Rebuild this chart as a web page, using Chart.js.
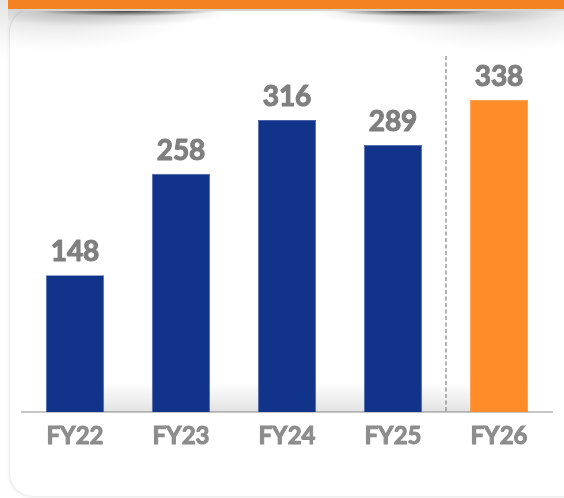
<!DOCTYPE html>
<html>
<head>
<meta charset="utf-8">
<script src="https://cdn.jsdelivr.net/npm/chart.js@4/dist/chart.umd.min.js"></script>
<style>
  html, body { margin: 0; padding: 0; background: #ffffff; }
  #stage { position: relative; width: 564px; height: 498px; overflow: hidden; background: #ffffff; }
  #edge { position: absolute; left: 0; top: 0; width: 8px; height: 60px;
          background: linear-gradient(to bottom, #e4e4e4, #f6f6f6 60%, #ffffff); }
  #card { position: absolute; left: 9px; top: 8px; width: 600px; height: 487px;
          border-radius: 24px; border: 1px solid #ececec; background: #ffffff;
          box-shadow: -1px 1px 3px rgba(0,0,0,0.05); }
  #header { position: absolute; left: 8px; top: 0; width: 560px; height: 9px;
            background: #F58220; border-bottom: 2px solid #d4d4d4; }
  #curl { position: absolute; left: 8px; top: 11px; width: 556px; height: 55px;
          background:
            radial-gradient(ellipse 90px 5px at 120px 0px, rgba(0,0,0,0.65), rgba(0,0,0,0) 100%),
            radial-gradient(ellipse 130px 16px at 95px 0px, rgba(0,0,0,0.22), rgba(0,0,0,0) 100%),
            radial-gradient(ellipse 140px 40px at 45px 0px, rgba(0,0,0,0.14), rgba(0,0,0,0.04) 65%, rgba(0,0,0,0) 100%),
            radial-gradient(ellipse 80px 5px at 405px 0px, rgba(0,0,0,0.65), rgba(0,0,0,0) 100%),
            radial-gradient(ellipse 130px 16px at 430px 0px, rgba(0,0,0,0.22), rgba(0,0,0,0) 100%),
            radial-gradient(ellipse 140px 40px at 495px 0px, rgba(0,0,0,0.14), rgba(0,0,0,0.04) 65%, rgba(0,0,0,0) 100%); }
  #chart { position: absolute; left: 0; top: 0; }
</style>
</head>
<body>
<div id="stage">
  <div id="edge"></div>
  <div id="card"></div>
  <div id="header"></div>
  <div id="curl"></div>
  <canvas id="chart" width="564" height="498"></canvas>
</div>
<script>
// Annual figures, FY22 to FY26 (FY26 is the projection)
const categories = ['FY22', 'FY23', 'FY24', 'FY25', 'FY26'];
const values = [148, 258, 316, 289, 338];
const projectedFrom = 'FY26';

const NAVY = '#12338A';
const ORANGE = '#FF8C29';
const LABEL_GREY = '#7f7f7f';
const TICK_GREY = '#8c8c8c';
const FONT = 'Lato, Calibri, "Open Sans", sans-serif';

// Soft floor shading behind the bars, just above the axis line
const floorShade = {
  id: 'floorShade',
  beforeDatasetsDraw(chart) {
    const { ctx, chartArea } = chart;
    const bars = chart.getDatasetMeta(0).data;
    if (!bars.length) return;
    const left = bars[0].x - bars[0].width / 2;
    const right = bars[bars.length - 1].x + bars[bars.length - 1].width / 2;
    const top = chartArea.bottom - 30;
    const g = ctx.createLinearGradient(0, top, 0, chartArea.bottom);
    g.addColorStop(0, 'rgba(0,0,0,0)');
    g.addColorStop(1, 'rgba(0,0,0,0.11)');
    ctx.save();
    ctx.fillStyle = g;
    ctx.fillRect(left, top, right - left, chartArea.bottom - top);
    ctx.restore();
  }
};

// Dashed divider between actual and projected years, plus value labels
const annotations = {
  id: 'annotations',
  afterDatasetsDraw(chart) {
    const { ctx, chartArea, scales } = chart;
    const idx = categories.indexOf(projectedFrom);
    ctx.save();
    if (idx > 0) {
      const x = (scales.x.getPixelForValue(idx - 1) + scales.x.getPixelForValue(idx)) / 2;
      ctx.strokeStyle = '#8a8a8a';
      ctx.lineWidth = 1.3;
      ctx.setLineDash([4, 2.5]);
      ctx.beginPath();
      ctx.moveTo(x, 56);
      ctx.lineTo(x, chartArea.bottom);
      ctx.stroke();
      ctx.setLineDash([]);
    }
    ctx.fillStyle = LABEL_GREY;
    ctx.strokeStyle = LABEL_GREY;
    ctx.lineWidth = 1.1;
    ctx.lineJoin = 'round';
    ctx.font = 'bold 28px ' + FONT;
    ctx.textAlign = 'center';
    ctx.textBaseline = 'alphabetic';
    chart.getDatasetMeta(0).data.forEach((bar, i) => {
      const y = bar.y - 14;
      ctx.fillText(String(values[i]), bar.x, y);
      ctx.strokeText(String(values[i]), bar.x, y);
    });
    ctx.restore();
  }
};

new Chart(document.getElementById('chart'), {
  type: 'bar',
  data: {
    labels: categories,
    datasets: [{
      data: values,
      backgroundColor: (c) => categories[c.dataIndex] === projectedFrom ? ORANGE : NAVY,
      borderColor: (c) => categories[c.dataIndex] === projectedFrom ? ORANGE : '#4a63ad',
      borderWidth: 0.8,
      categoryPercentage: 1,
      barPercentage: 0.55
    }]
  },
  options: {
    responsive: false,
    animation: false,
    devicePixelRatio: 1,
    layout: { padding: { top: 61, left: 22, right: 12, bottom: 0 } },
    plugins: { legend: { display: false }, tooltip: { enabled: false } },
    scales: {
      x: {
        grid: { display: false, drawTicks: false },
        border: { display: true, color: '#c6c6c6', width: 2 },
        ticks: {
          color: TICK_GREY,
          textStrokeColor: TICK_GREY,
          textStrokeWidth: 1,
          padding: 10,
          font: { family: FONT, size: 24, weight: 'bold' }
        },
        afterFit(scale) { scale.height = 86; }
      },
      y: {
        display: false,
        min: 0,
        max: 380
      }
    }
  },
  plugins: [floorShade, annotations]
});
</script>
</body>
</html>
